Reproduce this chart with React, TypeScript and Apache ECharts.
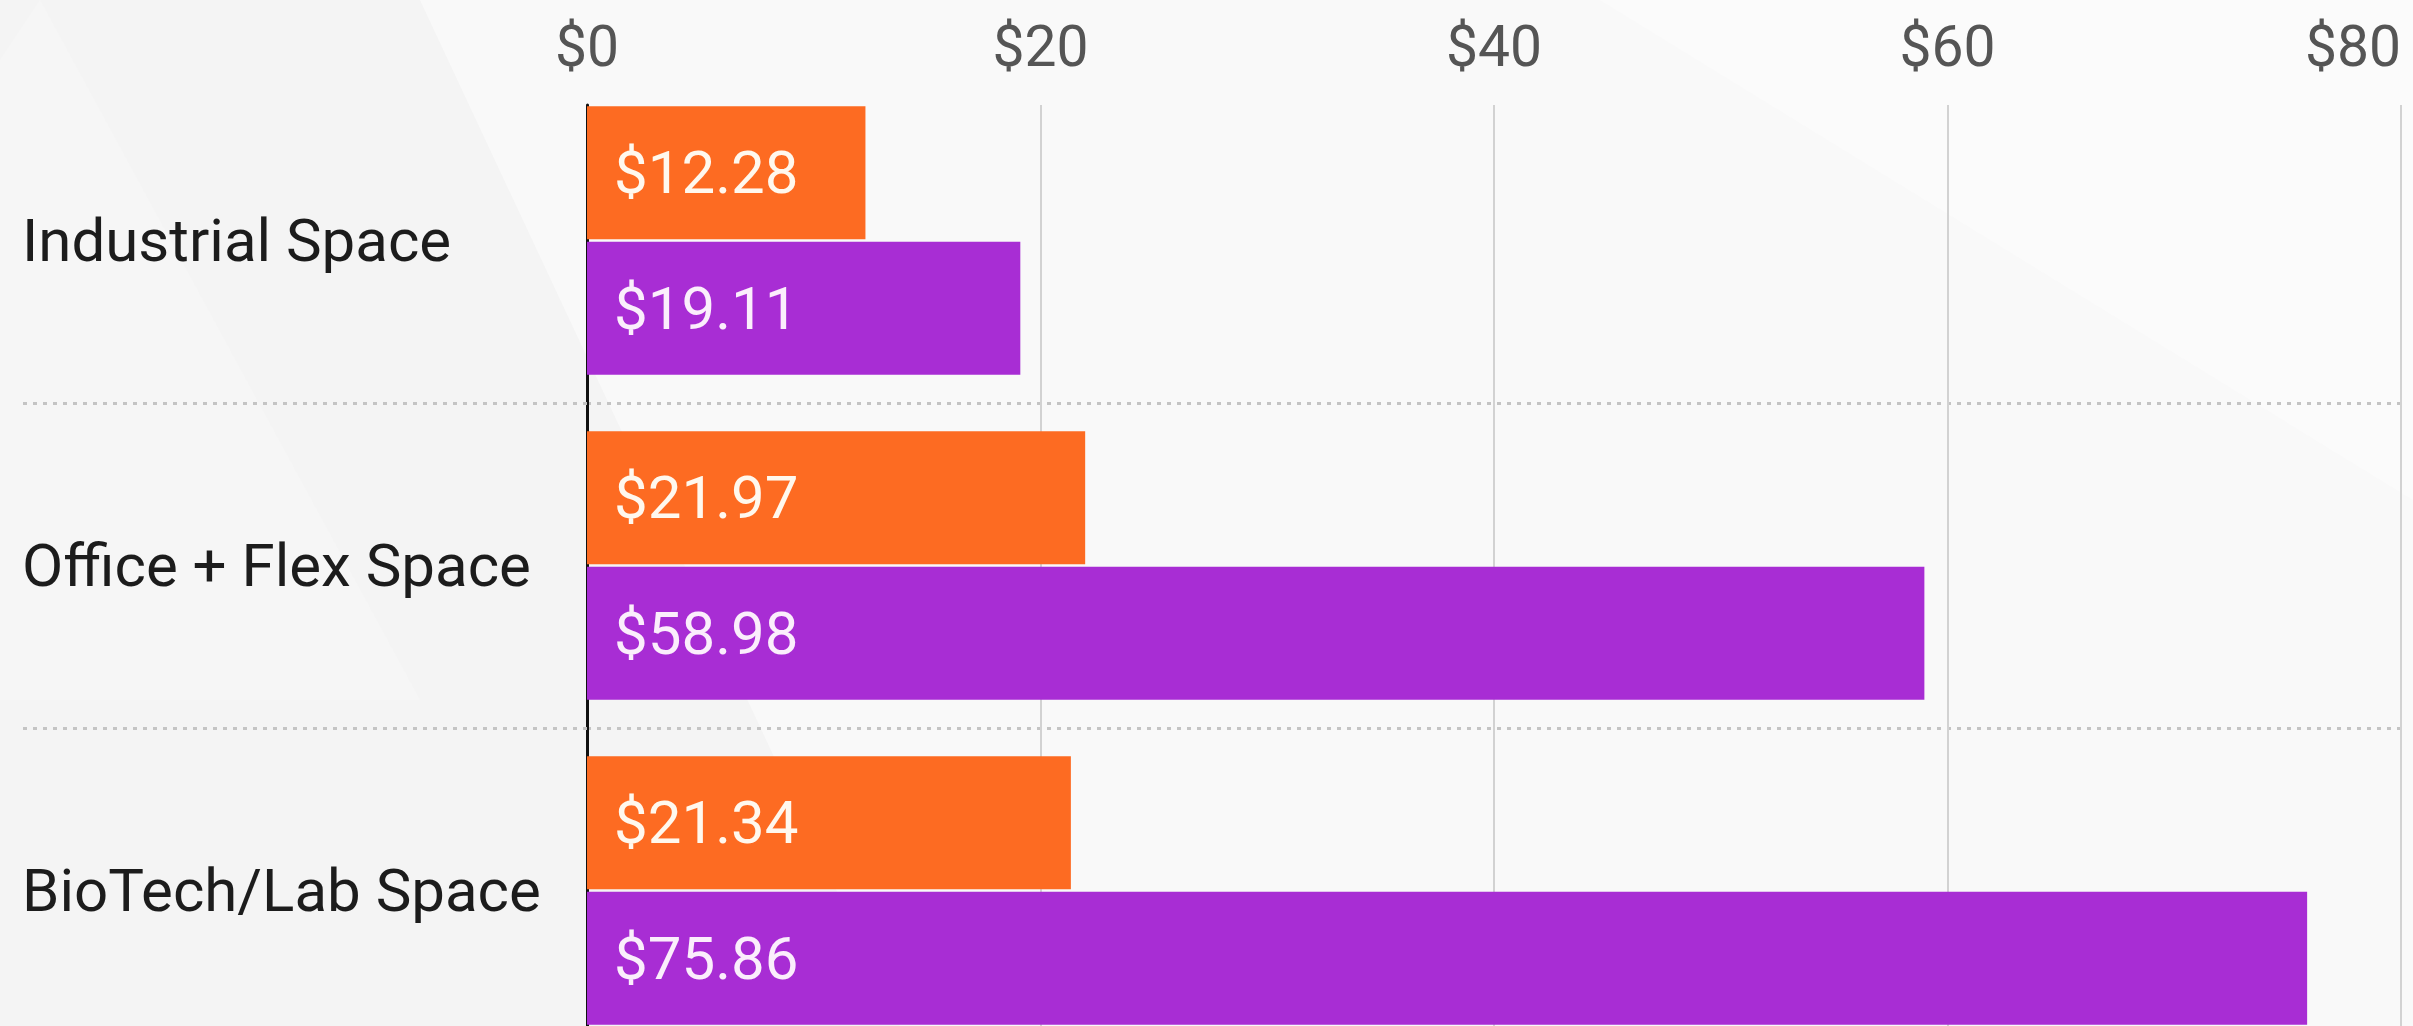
import React, { useEffect, useRef } from "react";
import * as echarts from "echarts";

const categories = ["Industrial Space", "Office + Flex Space", "BioTech/Lab Space"];
const orangeValues = [12.28, 21.97, 21.34];
const purpleValues = [19.11, 58.98, 75.86];
const xMin = 0;
const xMax = 80;
const xInterval = 20;

const W = 2413;
const H = 1026;

export default function App() {
  const ref = useRef<HTMLDivElement>(null);
  useEffect(() => {
    document.body.style.margin = "0";
    document.body.style.overflow = "hidden";
    if (!ref.current) return;
    const chart = echarts.init(ref.current, null, { renderer: "svg" });
    const font = "Roboto";
    const dotted = { color: "#c4c4c4", width: 3, type: [4, 6] as any };
    const option: any = {
      animation: false,
      backgroundColor: "#f4f4f4",
      graphic: [
        {
          type: "polygon",
          silent: true,
          z: -10,
          shape: { points: [[420, 0], [2413, 0], [2413, 1026], [900, 1026]] },
          style: { fill: "#f9f9f9" },
        },
        {
          type: "polygon",
          silent: true,
          z: -9,
          shape: { points: [[1600, 0], [2413, 0], [2413, 500]] },
          style: { fill: "#fbfbfb" },
        },
        {
          type: "polygon",
          silent: true,
          z: -9,
          shape: { points: [[0, 60], [40, 0], [420, 700], [0, 700]] },
          style: { fill: "#f6f6f6" },
        },
        {
          type: "polygon",
          silent: true,
          z: -9,
          shape: { points: [[420, 1150], [300, 1400], [0, 1026], [250, 1026]] },
          style: { fill: "#f1f1f1" },
        },
      ],
      grid: [
        { left: 587, top: 78, width: 2401 - 587, height: 975, containLabel: false, outerBoundsMode: "none" },
        { left: 587, top: 105, width: 2401 - 587, height: 948, containLabel: false, outerBoundsMode: "none" },
      ],
      xAxis: [
        {
          type: "value",
          gridIndex: 0,
          position: "top",
          min: xMin,
          max: xMax,
          interval: xInterval,
          axisLine: { show: false },
          axisTick: { show: false },
          splitLine: { show: false },
          axisLabel: {
            formatter: (v: number) => "$" + v,
            fontFamily: font,
            fontSize: 57,
            color: "#555555",
            margin: 3,
            alignMaxLabel: "right",
          },
        },
        {
          type: "value",
          gridIndex: 1,
          min: xMin,
          max: xMax,
          interval: xInterval,
          axisLine: { show: false },
          axisTick: { show: false },
          axisLabel: { show: false },
          splitLine: { show: true, lineStyle: { color: "#d2d2d2", width: 2 } },
        },
      ],
      yAxis: [
        {
          type: "category",
          gridIndex: 0,
          data: categories,
          inverse: true,
          axisLine: { show: false },
          axisTick: {
            show: true,
            length: 565,
            interval: (i: number) => i !== 0,
            lineStyle: dotted,
          },
          splitLine: {
            show: true,
            interval: (i: number) => i !== 0,
            lineStyle: dotted,
          },
          axisLabel: {
            align: "left",
            margin: 565,
            fontFamily: font,
            fontSize: 60,
            color: "#1c1c1c",
          },
        },
        {
          type: "value",
          gridIndex: 1,
          min: 0,
          max: 1,
          axisLine: { show: true, lineStyle: { color: "#111111", width: 3 } },
          axisTick: { show: false },
          axisLabel: { show: false },
          splitLine: { show: false },
        },
      ],
      series: [
        {
          name: "Series 1",
          type: "bar",
          xAxisIndex: 0,
          yAxisIndex: 0,
          data: orangeValues,
          barWidth: 133,
          barGap: "2%",
          itemStyle: { color: "#fd6b22" },
          label: {
            show: true,
            position: "insideLeft",
            distance: 27,
            fontFamily: font,
            fontSize: 60,
            color: "#fff8ee",
            formatter: (p: any) => "$" + Number(p.value).toFixed(2),
          },
          z: 3,
        },
        {
          name: "Series 2",
          type: "bar",
          xAxisIndex: 0,
          yAxisIndex: 0,
          data: purpleValues,
          barWidth: 133,
          itemStyle: { color: "#a82dd4" },
          label: {
            show: true,
            position: "insideLeft",
            distance: 27,
            fontFamily: font,
            fontSize: 60,
            color: "#fbeefc",
            formatter: (p: any) => "$" + Number(p.value).toFixed(2),
          },
          z: 3,
        },
      ],
    };
    chart.setOption(option);
    return () => chart.dispose();
  }, []);
  return <div ref={ref} style={{ width: W, height: H }} />;
}
